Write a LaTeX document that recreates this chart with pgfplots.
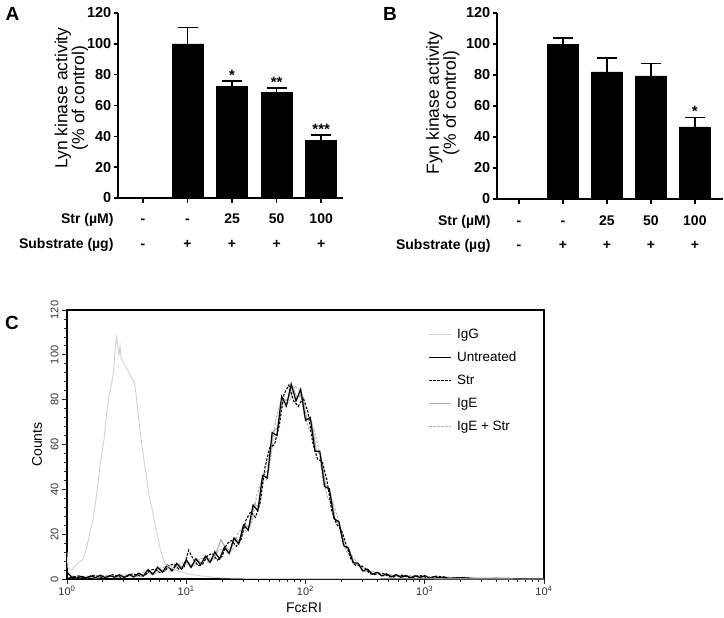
\documentclass[border=0pt]{standalone}
\usepackage{pgfplots}
\pgfplotsset{compat=1.18}
\usepackage{fontspec}
\setmainfont{Liberation Sans}
\def\tickA{\bfseries\fontsize{14.5bp}{16bp}\selectfont}
\def\rowA{\bfseries\fontsize{14bp}{16bp}\selectfont}
\def\starA{\bfseries\fontsize{15bp}{16bp}\selectfont}
\def\labA{\fontsize{17.5bp}{17bp}\selectfont}
\def\letterf{\bfseries\fontsize{19bp}{20bp}\selectfont}
\def\tickC{\fontsize{11bp}{13bp}\selectfont}
\def\labC{\fontsize{14bp}{16bp}\selectfont}
\def\legC{\fontsize{13.5bp}{15bp}\selectfont}
\pgfplotsset{
  barpanel/.style={
    anchor=south west, scale only axis, ybar, bar width=31bp,
    ymin=0, ymax=120,
    axis lines=left, axis line style={-, line width=1.6bp, black},
    tick align=outside, major tick length=4.5bp,
    tick style={line width=1.4bp, black},
    xtick={0,1,2,3,4}, xticklabels={},
    ytick={0,20,...,120},
    /pgf/number format/assume math mode=true,
    yticklabel style={font=\tickA, inner xsep=2bp},
    ylabel style={font=\labA, align=center, anchor=center},
    clip=false,
  },
  errstyle/.style={fill=black, draw=black,
    error bars/.cd, y dir=plus, y explicit,
    error bar style={line width=1.7bp, black},
    error mark options={rotate=90, mark size=10bp, line width=1.7bp, black}},
}
\begin{document}
\begin{tikzpicture}
\useasboundingbox (0,0) rectangle (724bp,-618bp);
% ---------------- Panel A ----------------
\begin{axis}[barpanel, at={(118bp,-198bp)}, width=225bp, height=185bp,
  xmin=-0.56, xmax=4.49,
  ylabel={Lyn kinase activity\\(\% of control)},
  ylabel style={at={(axis description cs:-0.207,0.54)}}]
\addplot[errstyle] coordinates {(1,100) +- (0,10.5) (2,72.5) +- (0,3.5) (3,68.5) +- (0,3) (4,37.5) +- (0,3.5)};
\node[font=\starA, anchor=base] at (axis cs:2,76.5) {*};
\node[font=\starA, anchor=base] at (axis cs:3,72) {**};
\node[font=\starA, anchor=base] at (axis cs:4,41.5) {***};
\node[font=\rowA, anchor=base east, xshift=-1bp, yshift=-25bp] at (rel axis cs:0,0) {Str (µM)};
\node[font=\rowA, anchor=base east, xshift=-1bp, yshift=-50bp] at (rel axis cs:0,0) {Substrate (µg)};
\node[font=\rowA, anchor=base, yshift=-25bp] at (axis cs:0,0) {-};
\node[font=\rowA, anchor=base, yshift=-25bp] at (axis cs:1,0) {-};
\node[font=\rowA, anchor=base, yshift=-25bp] at (axis cs:2,0) {25};
\node[font=\rowA, anchor=base, yshift=-25bp] at (axis cs:3,0) {50};
\node[font=\rowA, anchor=base, yshift=-25bp] at (axis cs:4,0) {100};
\node[font=\rowA, anchor=base, yshift=-50bp] at (axis cs:0,0) {-};
\node[font=\rowA, anchor=base, yshift=-50bp] at (axis cs:1,0) {+};
\node[font=\rowA, anchor=base, yshift=-50bp] at (axis cs:2,0) {+};
\node[font=\rowA, anchor=base, yshift=-50bp] at (axis cs:3,0) {+};
\node[font=\rowA, anchor=base, yshift=-50bp] at (axis cs:4,0) {+};
\end{axis}
% ---------------- Panel B ----------------
\begin{axis}[barpanel, at={(497bp,-199bp)}, width=226bp, height=186bp,
  xmin=-0.5, xmax=4.64,
  ylabel={Fyn kinase activity\\(\% of control)},
  ylabel style={at={(axis description cs:-0.240,0.516)}}]
\addplot[errstyle] coordinates {(1,100) +- (0,4) (2,82) +- (0,9) (3,79.5) +- (0,8) (4,46.5) +- (0,6)};
\node[font=\starA, anchor=base] at (axis cs:4,53) {*};
\node[font=\rowA, anchor=base east, xshift=-3bp, yshift=-26bp] at (rel axis cs:0,0) {Str (µM)};
\node[font=\rowA, anchor=base east, xshift=-3bp, yshift=-50bp] at (rel axis cs:0,0) {Substrate (µg)};
\node[font=\rowA, anchor=base, yshift=-26bp] at (axis cs:0,0) {-};
\node[font=\rowA, anchor=base, yshift=-26bp] at (axis cs:1,0) {-};
\node[font=\rowA, anchor=base, yshift=-26bp] at (axis cs:2,0) {25};
\node[font=\rowA, anchor=base, yshift=-26bp] at (axis cs:3,0) {50};
\node[font=\rowA, anchor=base, yshift=-26bp] at (axis cs:4,0) {100};
\node[font=\rowA, anchor=base, yshift=-50bp] at (axis cs:0,0) {-};
\node[font=\rowA, anchor=base, yshift=-50bp] at (axis cs:1,0) {+};
\node[font=\rowA, anchor=base, yshift=-50bp] at (axis cs:2,0) {+};
\node[font=\rowA, anchor=base, yshift=-50bp] at (axis cs:3,0) {+};
\node[font=\rowA, anchor=base, yshift=-50bp] at (axis cs:4,0) {+};
\end{axis}
% ---------------- Panel C ----------------
\begin{axis}[at={(67bp,-579bp)}, anchor=south west, scale only axis,
  width=477bp, height=269bp,
  xmin=0, xmax=4, ymin=0, ymax=120,
  axis line style={line width=1.2bp, black},
  tick align=outside, major tick length=5bp, minor tick length=3bp,
  tick style={line width=0.8bp, black!85},
  xtick pos=left, ytick pos=left,
  xtick={0,1,2,3,4},
  xticklabels={10\textsuperscript{0},10\textsuperscript{1},10\textsuperscript{2},10\textsuperscript{3},10\textsuperscript{4}},
  minor xtick={0.301,0.477,0.602,0.699,0.778,0.845,0.903,0.954,
    1.301,1.477,1.602,1.699,1.778,1.845,1.903,1.954,
    2.301,2.477,2.602,2.699,2.778,2.845,2.903,2.954,
    3.301,3.477,3.602,3.699,3.778,3.845,3.903,3.954},
  ytick={0,20,...,120}, minor y tick num=4,
  /pgf/number format/assume math mode=true,
  yticklabel style={rotate=90, anchor=south, font=\tickC, text=black!80},
  xticklabel style={font=\tickC, text=black!80, inner ysep=2bp},
  ylabel={Counts}, ylabel style={font=\labC, at={(axis description cs:-0.063,0.5)}, anchor=center},
  xlabel={FcεRI}, xlabel style={font=\labC, at={(axis description cs:0.497,-0.107)}, anchor=center},
  legend style={at={(axis description cs:0.752,0.94)}, anchor=north west, draw=none, fill=none,
    font=\legC, row sep=10bp, column sep=5bp,
    nodes={text height=10bp, text depth=3bp, inner sep=0pt, anchor=west}},
  legend cell align=left,
  legend image code/.code={\draw[#1] (0bp,0bp) -- (22bp,0bp);},
  reverse legend,
]
% IgE + Str
\addplot[gray!60, line width=1bp, dash pattern=on 2.5bp off 1.5bp] coordinates {
(0.03,1.0)(0.07,0.4)(0.11,0.6)(0.15,1.3)(0.19,1.2)(0.23,0.4)(0.27,0.6)(0.31,1.6)(0.35,1.5)(0.39,0.6)
(0.43,0.8)(0.47,1.9)(0.51,1.7)(0.55,0.9)(0.59,1.2)(0.63,2.9)(0.67,3.4)(0.71,2.0)(0.75,2.6)(0.79,5.1)
(0.83,5.4)(0.87,3.6)(0.91,4.2)(0.95,7.0)(0.99,7.3)(1.03,5.4)(1.07,6.0)(1.11,9.0)(1.15,9.5)(1.19,7.4)
(1.23,8.4)(1.27,12.8)(1.31,13.6)(1.35,11.5)(1.39,13.1)(1.43,20.0)(1.47,22.8)(1.51,21.0)(1.55,25.5)(1.59,37.0)
(1.63,43.5)(1.67,44.0)(1.71,54.5)(1.75,71.0)(1.79,78.5)(1.83,77.0)(1.87,80.0)(1.91,86.0)(1.95,84.5)(1.99,73.0)
(2.03,66.5)(2.07,67.0)(2.11,58.5)(2.15,43.0)(2.19,35.5)(2.23,34.5)(2.27,27.0)(2.31,16.5)(2.35,11.5)(2.39,10.5)
(2.43,7.5)(2.47,4.0)(2.51,3.0)(2.55,3.5)(2.59,3.1)(2.63,1.6)(2.67,1.4)(2.71,2.0)(2.75,1.9)(2.79,0.8)
(2.83,0.8)(2.87,1.5)(2.91,1.6)(2.95,0.7)(2.99,0.6)(3.03,1.2)(3.07,1.1)(3.11,0.4)(3.15,0.4)(3.19,0.9)
(3.23,0.5)(3.33,0.8)(3.43,0.3)(3.63,0.2)(4.00,0)};
\addlegendentry{IgE + Str}
% IgE
\addplot[gray!65, line width=1.1bp] coordinates {
(0.01,0.6)(0.05,1.3)(0.09,0.6)(0.13,1.1)(0.17,0.5)(0.21,1.3)(0.25,0.5)(0.29,1.4)(0.33,0.8)(0.37,1.3)
(0.41,0.7)(0.45,1.6)(0.49,1.0)(0.53,1.8)(0.57,1.1)(0.61,2.3)(0.65,1.6)(0.69,3.4)(0.73,2.6)(0.77,4.6)
(0.81,3.5)(0.85,5.6)(0.89,4.2)(0.93,6.6)(0.97,5.0)(1.01,7.9)(1.05,5.8)(1.09,8.8)(1.13,6.9)(1.17,10.0)
(1.21,8.0)(1.25,11.6)(1.29,17.5)(1.33,14.0)(1.37,12.5)(1.41,18.4)(1.45,16.5)(1.49,24.0)(1.53,23.0)(1.57,33.5)
(1.61,32.0)(1.65,47.0)(1.69,48.5)(1.73,66.0)(1.77,67.5)(1.81,80.5)(1.85,79.5)(1.89,86.0)(1.93,80.5)(1.97,82.5)
(2.01,71.5)(2.05,70.5)(2.09,57.5)(2.13,55.0)(2.17,41.5)(2.21,38.0)(2.25,26.5)(2.29,24.0)(2.33,14.5)(2.37,12.5)
(2.41,6.8)(2.45,6.6)(2.49,3.3)(2.53,4.0)(2.57,1.9)(2.61,2.8)(2.65,1.3)(2.69,2.1)(2.73,0.9)(2.77,1.8)
(2.81,0.7)(2.85,1.5)(2.89,0.6)(2.93,1.5)(2.97,0.8)(3.01,1.3)(3.05,0.4)(3.09,1.2)(3.13,0.5)(3.17,1.0)
(3.21,0.3)(3.31,0.5)(3.41,0.2)(3.61,0.3)(4.00,0)};
\addlegendentry{IgE}
% Str
\addplot[black, line width=1.1bp, dash pattern=on 2.5bp off 1.5bp] coordinates {
(0.02,0.5)(0.06,1.0)(0.10,1.4)(0.14,0.4)(0.18,0.7)(0.22,1.6)(0.26,1.2)(0.30,0.5)(0.34,0.9)(0.38,1.9)
(0.42,1.4)(0.46,0.6)(0.50,1.0)(0.54,2.2)(0.58,2.0)(0.62,1.1)(0.66,1.9)(0.70,4.0)(0.74,4.4)(0.78,2.8)
(0.82,3.4)(0.86,6.3)(0.90,6.5)(0.94,4.4)(0.98,5.0)(1.02,12.8)(1.06,8.8)(1.10,5.9)(1.14,6.8)(1.18,10.6)
(1.22,11.4)(1.26,8.4)(1.30,10.1)(1.34,15.7)(1.38,17.2)(1.42,14.6)(1.46,17.8)(1.50,26.2)(1.54,30.0)(1.58,27.5)
(1.62,34.0)(1.66,49.8)(1.70,58.5)(1.74,60.0)(1.78,68.5)(1.82,82.5)(1.86,86.5)(1.90,79.5)(1.94,77.0)(1.98,81.0)
(2.02,74.5)(2.06,61.0)(2.10,53.5)(2.14,52.5)(2.18,44.0)(2.22,30.5)(2.26,24.5)(2.30,22.0)(2.34,15.5)(2.38,9.0)
(2.42,6.0)(2.46,6.2)(2.50,4.8)(2.54,2.4)(2.58,2.0)(2.62,2.6)(2.66,2.4)(2.70,1.0)(2.74,0.9)(2.78,1.6)
(2.82,1.7)(2.86,0.6)(2.90,0.5)(2.94,1.4)(2.98,1.5)(3.02,0.4)(3.06,0.4)(3.10,1.3)(3.14,1.0)(3.18,0.3)
(3.22,0.3)(3.32,0.6)(3.42,0.2)(3.62,0.2)(4.00,0)};
\addlegendentry{Str}
% Untreated
\addplot[black, line width=1.2bp] coordinates {
(0.00,3.0)(0.04,0.9)(0.08,0.4)(0.12,1.2)(0.16,0.5)(0.20,1.4)(0.24,0.6)(0.28,1.7)(0.32,0.6)(0.36,1.5)
(0.40,0.8)(0.44,1.9)(0.48,0.7)(0.52,2.0)(0.56,0.9)(0.60,2.6)(0.64,1.4)(0.68,4.2)(0.72,2.1)(0.76,5.3)
(0.80,3.0)(0.84,6.2)(0.88,3.6)(0.92,7.0)(0.96,4.4)(1.00,8.6)(1.04,5.2)(1.08,9.1)(1.12,6.3)(1.16,10.2)
(1.20,7.4)(1.24,12.1)(1.28,8.9)(1.32,14.2)(1.36,11.4)(1.40,18.3)(1.44,15.6)(1.48,24.1)(1.52,21.8)(1.56,33.0)
(1.60,30.5)(1.64,46.2)(1.68,45.1)(1.72,65.3)(1.76,64.0)(1.80,81.5)(1.84,77.2)(1.88,87.0)(1.92,79.4)(1.96,84.6)
(2.00,70.8)(2.04,72.1)(2.08,56.9)(2.12,57.0)(2.16,41.2)(2.20,40.3)(2.24,26.8)(2.28,25.6)(2.32,14.9)(2.36,13.8)
(2.40,7.2)(2.44,7.1)(2.48,3.6)(2.52,4.4)(2.56,2.1)(2.60,3.0)(2.64,1.4)(2.68,2.3)(2.72,1.0)(2.76,1.9)
(2.80,0.8)(2.84,1.6)(2.88,0.6)(2.92,1.4)(2.96,0.7)(3.00,1.5)(3.04,0.4)(3.08,1.1)(3.12,0.5)(3.16,0.9)
(3.20,0.3)(3.30,0.6)(3.40,0.2)(3.60,0.3)(3.80,0.1)(4.00,0)};
\addlegendentry{Untreated}
% IgG
\addplot[gray!35, line width=0.9bp] coordinates {
(0.000,12)(0.008,5)(0.04,4)(0.07,6)(0.10,7.5)(0.13,8.5)(0.16,13)(0.19,20)(0.22,27)(0.25,38)
(0.28,52)(0.31,62)(0.33,73)(0.35,81)(0.37,86)(0.39,92)(0.405,103)(0.415,108)(0.425,104)(0.435,100)
(0.445,104)(0.455,98)(0.47,97)(0.49,95)(0.51,93)(0.53,91)(0.55,89)(0.565,88)(0.58,82)(0.60,72)
(0.62,63)(0.64,55)(0.66,48)(0.68,40)(0.70,34)(0.72,30)(0.74,24)(0.76,19)(0.78,14)(0.80,10)
(0.82,7)(0.85,5.5)(0.88,5)(0.91,4)(0.94,3.5)(0.97,3)(1.00,2.5)(1.05,2)(1.10,1.5)(1.20,1)
(1.30,0.5)(1.50,0.3)(2.00,0.2)(3.00,0.1)(4.00,0)};
\addlegendentry{IgG}
\end{axis}
% panel letters
\node[font=\letterf] at (12.5bp,-13.5bp) {A};
\node[font=\letterf] at (390bp,-14bp) {B};
\node[font=\letterf] at (12bp,-323bp) {C};
\end{tikzpicture}
\end{document}
